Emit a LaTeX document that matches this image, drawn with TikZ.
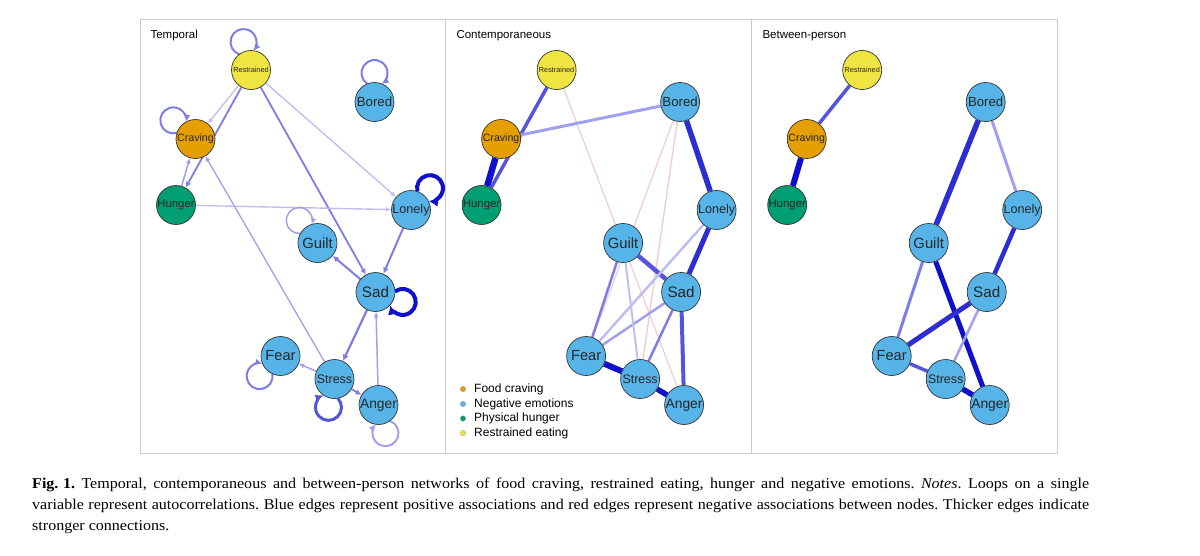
\documentclass[tikz,border=0pt]{standalone}
\usepackage{fontspec}
\setmainfont{Liberation Serif}[FakeStretch=1.07]
\setsansfont{Liberation Sans}
\usetikzlibrary{arrows.meta, backgrounds}

\definecolor{restrained}{HTML}{F0E442}
\definecolor{craving}{HTML}{E69F00}
\definecolor{hunger}{HTML}{009E73}
\definecolor{negemo}{HTML}{56B4E9}
\definecolor{framegray}{HTML}{CCCCCC}
\definecolor{posA}{RGB}{190,190,243}
\definecolor{posB}{RGB}{160,160,238}
\definecolor{posC}{RGB}{125,125,230}
\definecolor{posD}{RGB}{85,85,220}
\definecolor{posE}{RGB}{45,45,212}
\definecolor{posF}{RGB}{15,15,204}
\definecolor{negA}{RGB}{240,204,204}

\tikzset{
  var/.style={draw=black!80, circle, minimum size=39pt, inner sep=0pt, line width=0.7pt, text=black!85},
  lbl/.style={font=\sffamily\fontsize{#1}{#1}\selectfont},
  arr/.style={-{Latex[length=3.5pt 1.3, width=3.5pt 1.2]}},
  looparr/.style={-{Latex[length=4pt 1.4, width=4pt 1.3]}},
  paneltitle/.style={anchor=base west, font=\sffamily\fontsize{11.5}{13}\selectfont},
  legtext/.style={anchor=west, inner sep=0pt, font=\sffamily\fontsize{12}{14}\selectfont},
  legdot/.style={circle, inner sep=0pt, minimum size=5.5pt, draw=black!40, line width=0.3pt},
}

% the ten variables, same layout in every panel
\newcommand{\placevars}{%
  \node[var, fill=restrained, lbl=7.3] (res) at (251,-70) {Restrained};
  \node[var, fill=negemo, lbl=13.2] (bor) at (374.5,-102) {Bored};
  \node[var, fill=craving, lbl=10.6] (cra) at (195.5,-139) {Craving};
  \node[var, fill=hunger, lbl=11.4] (hun) at (176,-205) {Hunger};
  \node[var, fill=negemo, lbl=12.6] (lon) at (411,-210) {Lonely};
  \node[var, fill=negemo, lbl=14.8] (gui) at (317.5,-243) {Guilt};
  \node[var, fill=negemo, lbl=15.2] (sad) at (375.5,-292) {Sad};
  \node[var, fill=negemo, lbl=14.6] (fea) at (280.5,-356) {Fear};
  \node[var, fill=negemo, lbl=12.4] (str) at (334.5,-379) {Stress};
  \node[var, fill=negemo, lbl=13.8] (ang) at (378.5,-405) {Anger};
}

% autocorrelation loop: style, node, direction
\newcommand{\selfloop}[3]{%
  \draw[looparr, #1] (#2) ++({#3+21.7}:19.6) arc[start angle={#3+146.1}, delta angle=-292.2, radius=13];
}

\begin{document}
\begin{tikzpicture}[x=1pt, y=1pt]
  \useasboundingbox (0,0) rectangle (1200,-555);

  % frame of the three panels
  \draw[framegray, line width=1] (140,-19) rectangle (1057,-453);
  \draw[framegray, line width=1] (445.6,-19) -- (445.6,-453);
  \draw[framegray, line width=1] (751.2,-19) -- (751.2,-453);

  \node[paneltitle] (ttemp) at (147,-38.5) {Temporal};
  \node[paneltitle] (tcont) at (453,-38.5) {Contemporaneous};
  \node[paneltitle] (tbetw) at (759,-38.5) {Between-person};

  % temporal network
  \begin{scope}[name prefix=t-]
    \placevars
    \begin{scope}[on background layer]
      \draw[arr, posA, line width=1.3] (res) -- (cra);
      \draw[arr, posC, line width=1.8] (res) -- (hun);
      \draw[arr, posB, line width=1.5] (hun) -- (cra);
      \draw[arr, posA, line width=1.4] (res) -- (lon);
      \draw[arr, posC, line width=1.8] (res) -- (sad);
      \draw[arr, posA, line width=1.4] (hun) -- (lon);
      \draw[arr, posB, line width=1.3] (str) -- (cra);
      \draw[arr, posC, line width=2] (sad) -- (gui);
      \draw[arr, posC, line width=2] (lon) -- (sad);
      \draw[arr, posC, line width=2.2] (sad) -- (str);
      \draw[arr, posB, line width=1.5] (ang) -- (sad);
      \draw[arr, posB, line width=1.5] (str) -- (fea);
      \draw[arr, posC, line width=1.8] (str) -- (ang);
      \selfloop{posC, line width=2}{res}{105}
      \selfloop{posC, line width=2}{bor}{90}
      \selfloop{posC, line width=2}{cra}{140}
      \selfloop{posF, line width=4}{lon}{49}
      \selfloop{posB, line width=1.5}{gui}{129}
      \selfloop{posF, line width=4}{sad}{-20}
      \selfloop{posC, line width=2}{fea}{224}
      \selfloop{posD, line width=3}{str}{258}
      \selfloop{posB, line width=2}{ang}{284}
    \end{scope}
  \end{scope}

  % contemporaneous network
  \begin{scope}[xshift=305.6, name prefix=c-]
    \placevars
    \begin{scope}[on background layer]
      \draw[negA, line width=1.2] (res) -- (ang);
      \draw[negA, line width=1.2] (bor) -- (fea);
      \draw[negA, line width=1.4] (bor) -- (str);
      \draw[posF, line width=6.5] (cra) -- (hun);
      \draw[posD, line width=3.5] (res) -- (hun);
      \draw[posB, line width=3] (cra) -- (bor);
      \draw[posE, line width=5.5] (bor) -- (lon);
      \draw[posE, line width=5] (lon) -- (sad);
      \draw[posD, line width=4.5] (gui) -- (sad);
      \draw[posD, line width=4] (sad) -- (ang);
      \draw[posF, line width=6] (fea) -- (str);
      \draw[posF, line width=5.5] (str) -- (ang);
      \draw[posA, line width=2.5] (lon) -- (fea);
      \draw[posB, line width=2.5] (sad) -- (fea);
      \draw[posC, line width=2.5] (gui) -- (fea);
      \draw[posA, line width=2] (gui) -- (str);
      \draw[posC, line width=2.5] (sad) -- (str);
    \end{scope}
  \end{scope}

  % between-person network
  \begin{scope}[xshift=611.2, name prefix=b-]
    \placevars
    \begin{scope}[on background layer]
      \draw[posD, line width=3.5] (res) -- (cra);
      \draw[posF, line width=6] (cra) -- (hun);
      \draw[posE, line width=5.5] (bor) -- (gui);
      \draw[posB, line width=3] (bor) -- (lon);
      \draw[posE, line width=4.5] (lon) -- (sad);
      \draw[posC, line width=3] (gui) -- (fea);
      \draw[posF, line width=5] (gui) -- (ang);
      \draw[posE, line width=5] (sad) -- (fea);
      \draw[posB, line width=2.5] (sad) -- (str);
      \draw[posD, line width=3.5] (fea) -- (str);
      \draw[posF, line width=5.5] (str) -- (ang);
    \end{scope}
  \end{scope}

  % legend
  \node[legdot, fill=craving] (ldcra) at (463,-389) {};
  \node[legdot, fill=negemo] (ldemo) at (463,-404) {};
  \node[legdot, fill=hunger] (ldhun) at (463,-418.5) {};
  \node[legdot, fill=restrained] (ldres) at (463,-433) {};
  \node[legtext] (lcra) at (474,-389) {Food craving};
  \node[legtext] (lemo) at (474,-404) {Negative emotions};
  \node[legtext] (lhun) at (474,-418.5) {Physical hunger};
  \node[legtext] (lres) at (474,-433) {Restrained eating};

  % caption
  \node[anchor=north west, inner sep=0pt, text width=1057pt, align=justify,
        font=\fontsize{15}{21}\selectfont\frenchspacing] (caption) at (32,-477.5)
    {\textbf{Fig.\hspace{0.3em}1.} Temporal, contemporaneous and between-person networks of food craving, restrained eating, hunger and negative emotions. \textit{Notes}. Loops on a single\linebreak
     variable represent autocorrelations. Blue edges represent positive associations and red edges represent negative associations between nodes. Thicker edges indicate\linebreak
     stronger connections.};
\end{tikzpicture}
\end{document}
